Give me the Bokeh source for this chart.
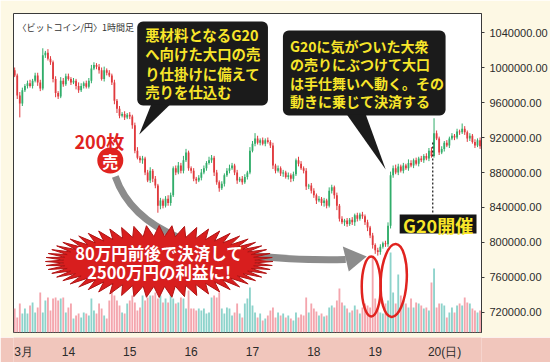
import numpy as np
from bokeh.plotting import figure
from bokeh.layouts import column
from bokeh.models import Range1d, FixedTicker, NumeralTickFormatter
from bokeh.core.properties import value
from bokeh.embed import file_html
from bokeh.resources import INLINE

# ---------------------------------------------------------------------------
# Hourly BTC/JPY candles. Hour 0 = 14 March 00:00. Prices in thousand yen.
# ---------------------------------------------------------------------------
FIRST_HOUR = -21
FIRST_OPEN = 997

close_13 = [991, 968, 959, 974, 979, 982, 979, 985, 991, 983, 976, 1014, 1017, 1010, 1006,
            987, 971, 967, 985, 981, 990]
close_14 = [987, 983, 985, 979, 974, 979, 982, 978, 985, 999, 1003, 1001, 997, 987, 997, 994,
            991, 983, 962, 953, 945, 947, 943, 946]
close_15 = [944, 934, 905, 897, 894, 896, 880, 871, 882, 873, 865, 842, 848, 842, 850, 845,
            854, 885, 880, 888, 882, 894, 903, 885]
close_16 = [882, 873, 871, 874, 880, 885, 891, 894, 897, 880, 869, 862, 867, 877, 882, 885,
            888, 880, 871, 873, 869, 875, 880, 905]
close_17 = [913, 919, 914, 917, 913, 917, 915, 911, 888, 882, 885, 879, 880, 875, 877, 873,
            878, 894, 890, 885, 882, 864, 865, 859]
close_18 = [854, 848, 850, 845, 848, 842, 859, 863, 854, 842, 827, 823, 825, 821, 826, 823,
            831, 827, 832, 830, 823, 817, 808, 797]
close_19 = [791, 789, 795, 799, 798, 819, 877, 885, 880, 887, 882, 888, 885, 891, 888, 894,
            890, 896, 894, 899, 896, 905, 899, 925]
close_20 = [919, 903, 907, 914, 911, 919, 922, 920, 927, 926, 930, 926, 919, 922, 915, 911,
            917, 910]

# wick lengths above / below the body (thousand yen)
upper_wick = ([3, 2, 4, 3, 2, 3, 4, 2, 3, 3, 3, 8, 2, 4, 3, 2, 3, 2, 4, 3, 3]
              + [3, 2, 3, 2, 4, 3, 2, 3, 3, 4, 3, 2, 3, 3, 4, 2, 3, 2, 3, 2, 3, 2, 3, 2]
              + [3, 2, 3, 4, 2, 3, 2, 3, 4, 2, 3, 2, 3, 2, 3, 4, 3, 2, 3, 4, 3, 5, 4, 2]
              + [2, 3, 2, 3, 4, 3, 2, 4, 3, 2, 3, 2, 3, 2, 3, 4, 3, 2, 3, 2, 3, 3, 2, 4]
              + [3, 6, 3, 2, 3, 2, 3, 2, 3, 2, 3, 2, 3, 2, 3, 2, 3, 2, 4, 3, 2, 3, 2, 3]
              + [3, 2, 3, 2, 3, 2, 4, 3, 2, 3, 2, 3, 2, 3, 2, 3, 2, 3, 2, 3, 2, 3, 2, 3]
              + [2, 3, 3, 2, 3, 4, 4, 3, 4, 3, 2, 3, 2, 4, 3, 2, 3, 2, 3, 2, 3, 3, 4, 17]
              + [3, 2, 3, 2, 3, 2, 3, 2, 3, 2, 6, 3, 2, 3, 2, 3, 2, 3])
lower_wick = ([2, 4, 16, 3, 2, 3, 2, 3, 2, 4, 3, 2, 3, 2, 3, 4, 5, 3, 2, 3, 2]
              + [2, 3, 2, 4, 3, 2, 3, 2, 2, 3, 2, 3, 4, 2, 3, 3, 2, 3, 4, 5, 3, 2, 3, 2]
              + [3, 4, 3, 2, 3, 4, 3, 2, 3, 4, 3, 8, 4, 3, 2, 3, 3, 2, 3, 2, 3, 3, 2, 3]
              + [3, 3, 4, 2, 3, 2, 3, 2, 3, 4, 3, 4, 2, 3, 2, 3, 2, 3, 4, 2, 3, 2, 3, 2]
              + [2, 3, 2, 3, 2, 3, 2, 3, 4, 3, 2, 3, 4, 2, 3, 4, 3, 2, 3, 2, 3, 4, 3, 3]
              + [3, 4, 2, 3, 4, 3, 2, 3, 4, 5, 3, 2, 4, 3, 2, 3, 4, 3, 2, 3, 3, 4, 3, 4]
              + [4, 4, 3, 2, 3, 3, 3, 3, 2, 3, 2, 3, 2, 3, 2, 3, 2, 3, 2, 3, 2, 3, 2, 2]
              + [2, 3, 2, 3, 2, 3, 2, 3, 2, 3, 2, 3, 4, 3, 2, 3, 2, 3])

# hourly volume (hundred BTC)
volume = ([24, 15, 29, 19, 24, 19, 27, 30, 20, 25, 40, 20, 32, 35, 22, 34, 35, 32, 34, 35, 20]
          + [25, 29, 14, 17, 19, 15, 20, 19, 17, 34, 22, 19, 29, 24, 17, 14, 32, 42, 37, 32, 27, 20, 19, 29]
          + [32, 37, 30, 22, 25, 37, 32, 35, 37, 37, 40, 34, 37, 30, 34, 30, 39, 34, 29, 30, 35, 34, 24, 42]
          + [24, 24, 22, 24, 22, 24, 19, 20, 35, 37, 35, 40, 24, 19, 25, 24, 17, 20, 29, 19, 15, 29, 34, 45]
          + [27, 20, 15, 19, 12, 14, 17, 22, 25, 15, 20, 17, 19, 15, 17, 14, 12, 20, 15, 18, 17, 35, 20, 29]
          + [24, 21, 17, 19, 16, 17, 25, 27, 25, 32, 44, 30, 27, 24, 20, 22, 27, 23, 19, 25, 29, 27, 25, 75]
          + [34, 24, 20, 19, 29, 32, 80, 40, 29, 58, 37, 32, 29, 25, 34, 25, 30, 29, 27, 24, 25, 22, 50, 64]
          + [25, 29, 29, 27, 15, 20, 25, 20, 27, 29, 27, 35, 30, 29, 24, 22, 20, 22])

day_labels = ["3月", "14", "15", "16", "17", "18", "19", "20(日)"]
day_label_hours = [-21.2, 0, 24, 48, 72, 96, 120, 144]
price_ticks = [720000, 760000, 800000, 840000, 880000, 920000, 960000, 1000000, 1040000]

title_text = "〈ビットコイン/円〉1時間足"
bubble1_lines = ["悪材料となるG20", "へ向けた大口の売", "り仕掛けに備えて", "売りを仕込む"]
bubble2_lines = ["G20に気がついた大衆", "の売りにぶつけて大口", "は手仕舞いへ動く。その", "動きに乗じて決済する"]
burst_lines = ["80万円前後で決済して", "2500万円の利益に!"]

# ---------------------------------------------------------------------------
closes = close_13 + close_14 + close_15 + close_16 + close_17 + close_18 + close_19 + close_20
hours = np.arange(FIRST_HOUR, FIRST_HOUR + len(closes))
close = np.array(closes, dtype=float) * 1000
open_ = np.array([FIRST_OPEN] + closes[:-1], dtype=float) * 1000
body_top = np.maximum(open_, close)
body_bot = np.minimum(open_, close)
high = body_top + np.array(upper_wick) * 1000
low = body_bot - np.array(lower_wick) * 1000
rising = close >= open_

UP, DOWN = "#31ad6a", "#e03a3e"
VOL_UP, VOL_DOWN = "#8dd3cb", "#f4a5ad"
CREAM, PINK = "#fdf8e4", "#f1c6bc"
YELLOW = "#f8e62a"
RED = "#e0231f"
candle_col = [UP if r else DOWN for r in rising]
vol_col = [VOL_UP if r else VOL_DOWN for r in rising]

# frame geometry (pixels) and data ranges
W, H_MAIN, H_BAND = 550, 337, 25
FL, FR, FT, FB = 13, 482, 13, 332
X0, X1 = -21.463, 161.561
Y0, Y1 = 697120.0, 1061740.0


def px2x(px):
    return X0 + (px - FL) * (X1 - X0) / (FR - FL)


def py2y(py):
    return Y1 - (py - FT) * (Y1 - Y0) / (FB - FT)


def to_data(points):
    return [px2x(a) for a, _ in points], [py2y(b) for _, b in points]


def rounded_box(l, t, r, b, rad, n=7):
    pts = []
    for cx, cy, a0 in [(r - rad, t + rad, -90), (r - rad, b - rad, 0),
                       (l + rad, b - rad, 90), (l + rad, t + rad, 180)]:
        for a in np.radians(np.linspace(a0, a0 + 90, n)):
            pts.append((cx + rad * np.cos(a), cy + rad * np.sin(a)))
    return pts


JP = value("Noto Sans CJK JP")

p = figure(width=W, height=H_MAIN, x_range=Range1d(X0, X1), y_range=Range1d(Y0, Y1),
           x_axis_location=None, y_axis_location="right",
           toolbar_location=None, output_backend="svg")
p.min_border_left = FL
p.min_border_right = W - FR
p.min_border_top = FT
p.min_border_bottom = H_MAIN - FB
p.background_fill_color = "white"
p.border_fill_color = CREAM
p.outline_line_color = "#3a3a3a"
p.outline_line_width = 1
p.xgrid.visible = False
p.ygrid.visible = False
p.extra_y_ranges = {"vol": Range1d(0, FB - FT)}

ax = p.yaxis[0]
ax.ticker = FixedTicker(ticks=price_ticks)
ax.formatter = NumeralTickFormatter(format="0.00")
ax.major_label_text_font = "Liberation Sans"
ax.major_label_text_font_size = "11px"
ax.major_label_text_color = "#2b2b2b"
ax.major_label_standoff = 5
ax.major_tick_out = 3
ax.major_tick_in = 0
ax.minor_tick_line_color = None
ax.axis_line_color = "#3a3a3a"
ax.major_tick_line_color = "#3a3a3a"

# volume
p.vbar(x=hours, top=volume, bottom=0, width=0.72, fill_color=vol_col, line_color=None,
       y_range_name="vol")

# candles
p.segment(x0=hours, y0=low, x1=hours, y1=high, line_color=candle_col, line_width=1)
p.vbar(x=hours, top=body_top, bottom=body_bot, width=0.7, fill_color=candle_col, line_color=None)

# G20 marker
p.segment(x0=[142.5], y0=[py2y(142)], x1=[142.5], y1=[py2y(213)],
          line_color="#111111", line_width=1.2, line_dash="2 2")
bx, by = to_data([(400, 214), (477, 214), (477, 233), (400, 233)])
p.patch(bx, by, fill_color="#151515", line_color=None)
p.text(x=[px2x(438.5)], y=[py2y(224)], text=["G20開催"], text_font=JP, text_font_style="bold",
       text_font_size="18px", text_color=YELLOW, text_align="center", text_baseline="middle")

# circled volume spikes
p.ellipse(x=[px2x(371.5)], y=[py2y(286)], width=19, height=60, width_units="screen",
          height_units="screen", fill_color=None, line_color=RED, line_width=2.5)
p.ellipse(x=[px2x(394)], y=[py2y(280)], width=26, height=73, angle=-0.06, width_units="screen",
          height_units="screen", fill_color=None, line_color=RED, line_width=2.5)

# curved grey arrow
p.bezier(x0=[px2x(115)], y0=[py2y(176)], x1=[px2x(346)], y1=[py2y(259)],
         cx0=[px2x(132)], cy0=[py2y(225)], cx1=[px2x(190)], cy1=[py2y(262)],
         line_color="#8c8c8c", line_width=7)
hx, hy = to_data([(343, 246), (349, 271), (367, 256)])
p.patch(hx, hy, fill_color="#8c8c8c", line_color=None)

# starburst
N = 56
k = np.arange(2 * N)
ang = np.pi * k / N
rx = np.where(k % 2 == 0, 114, 96)
ry = np.where(k % 2 == 0, 36, 25)
sx, sy = to_data(list(zip(159 + rx * np.cos(ang), 261 + ry * np.sin(ang))))
p.patch(sx, sy, fill_color="#d81e1e", line_color="#b01414", line_width=1)
p.text(x=[px2x(159)] * 2, y=[py2y(252), py2y(271)], text=burst_lines, text_font=JP,
       text_font_style="bold", text_font_size="16.5px", text_color="white",
       text_align="center", text_baseline="middle")

# speech bubbles
for box, tail in [((137, 21, 268, 105), [(151, 104), (170, 104), (139, 134)]),
                  ((283, 30, 446, 115), [(347, 114), (366, 114), (386, 169)])]:
    xs, ys = to_data(rounded_box(*box, 6))
    p.patch(xs, ys, fill_color="#1b1b1b", line_color=None)
    xs, ys = to_data(tail)
    p.patch(xs, ys, fill_color="#1b1b1b", line_color=None)

p.text(x=[px2x(145)] * 4, y=[py2y(v) for v in (34, 53, 73, 91)], text=bubble1_lines,
       text_font=JP, text_font_style="bold", text_font_size="14.4px", text_color=YELLOW,
       text_align="left", text_baseline="middle")
p.text(x=[px2x(290)] * 4, y=[py2y(v) for v in (45, 63, 82, 100)], text=bubble2_lines,
       text_font=JP, text_font_style="bold", text_font_size="14px", text_color=YELLOW,
       text_align="left", text_baseline="middle")

# position note
p.text(x=[px2x(99)], y=[py2y(140)], text=["200枚"], text_font=JP, text_font_style="bold",
       text_font_size="18px", text_color=RED, text_align="center", text_baseline="middle")
p.scatter(x=[px2x(110)], y=[py2y(160)], size=26, marker="circle", fill_color=RED, line_color=None)
p.text(x=[px2x(110)], y=[py2y(160)], text=["売"], text_font=JP, text_font_style="bold",
       text_font_size="16px", text_color="white", text_align="center", text_baseline="middle")

# chart title
p.text(x=[px2x(17)], y=[py2y(27)], text=[title_text], text_font=JP, text_font_size="9px",
       text_color="#333333", text_align="left", text_baseline="middle")

# date band (its frame lines up with the chart frame inside the column)
band = figure(width=W, height=H_BAND, x_range=p.x_range, y_range=Range1d(0, 1),
              x_axis_location=None, y_axis_location=None,
              toolbar_location=None, output_backend="svg")
band.min_border_left = FL
band.min_border_right = W - FR
band.min_border_top = 0
band.min_border_bottom = 0
band.background_fill_color = PINK
band.border_fill_color = PINK
band.outline_line_color = None
band.xgrid.visible = False
band.ygrid.visible = False
band.text(x=day_label_hours, y=[0.44] * len(day_labels), text=day_labels,
          x_offset=[0, 0, 0, 0, 0, 0, 0, 8],
          text_align=["left", "center", "center", "center", "center", "center", "center", "center"],
          text_font=value("Liberation Sans"), text_font_size="12px", text_color="#2b2b2b",
          text_baseline="middle")

layout = column(p, band, spacing=0)
open("out.html", "w").write(file_html(layout, INLINE))
